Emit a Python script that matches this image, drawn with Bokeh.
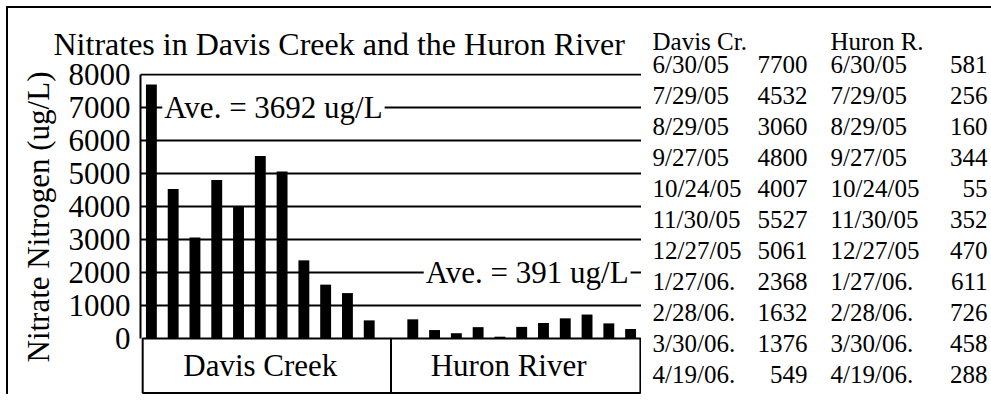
from bokeh.plotting import figure
from bokeh.models import FactorRange, Range1d, FixedTicker, ColumnDataSource, Title
from bokeh.layouts import row
from bokeh.embed import file_html
from bokeh.resources import INLINE
from bokeh.core.properties import value

# ---------------- data ----------------
chart_title = "Nitrates in Davis Creek and the Huron River"
y_label = "Nitrate Nitrogen (ug/L)"
groups = ["Davis Creek", "Huron River"]
table_headers = ["Davis Cr.", "Huron R."]
dates = ["6/30/05", "7/29/05", "8/29/05", "9/27/05", "10/24/05", "11/30/05",
         "12/27/05", "1/27/06.", "2/28/06.", "3/30/06.", "4/19/06."]
davis = [7700, 4532, 3060, 4800, 4007, 5527, 5061, 2368, 1632, 1376, 549]
huron = [581, 256, 160, 344, 55, 352, 470, 611, 726, 458, 288]
y_ticks = [0, 1000, 2000, 3000, 4000, 5000, 6000, 7000, 8000]

FONT = "Liberation Serif"
BIG = "31px"
SMALL = "25px"

davis_avg = round(sum(davis) / len(davis))
huron_avg = round(sum(huron) / len(huron))

# ---------------- chart ----------------
factors = [(g, d) for g in groups for d in dates]
bar_values = davis + huron

p = figure(width=633, height=386,
           x_range=FactorRange(*factors, group_padding=1.0, range_padding=0),
           y_range=Range1d(-1697, 8030),
           output_backend="svg", toolbar_location=None,
           min_border_left=131, min_border_right=0, min_border_top=65, min_border_bottom=0,
           x_axis_location=None, title=chart_title)
p.frame_align = False
p.outline_line_color = None
p.background_fill_color = "white"
p.border_fill_color = "white"

p.title.align = "left"
p.title.offset = -87
p.title.text_font = FONT
p.title.text_font_size = "32px"
p.title.text_font_style = "normal"
p.title.text_color = "black"
p.title.standoff = 24

p.xgrid.visible = False
p.ygrid.ticker = FixedTicker(ticks=y_ticks[1:])
p.ygrid.grid_line_color = "black"
p.ygrid.grid_line_width = 2

ax = p.yaxis[0]
ax.ticker = FixedTicker(ticks=y_ticks)
ax.bounds = (y_ticks[0], y_ticks[-1])
ax.axis_line_color = "black"
ax.axis_line_width = 2
ax.major_tick_out = 0
ax.major_tick_in = 0
ax.minor_tick_out = 0
ax.minor_tick_in = 0
ax.major_label_text_font = FONT
ax.major_label_text_font_size = BIG
ax.major_label_text_color = "black"
ax.major_label_standoff = 10

# y-axis title, placed in the left panel beside the tick labels
ytitle = Title(text=y_label, align="left", offset=32, vertical_align="bottom", standoff=20,
               text_font=FONT, text_font_size=BIG, text_font_style="normal", text_color="black")
p.add_layout(ytitle, "left")

bars = ColumnDataSource(dict(x=factors, top=bar_values))
p.vbar(x="x", top="top", bottom=0, width=0.5, fill_color="black", line_color=None, source=bars)

# category boxes under the bars
boxes = ColumnDataSource(dict(
    left=[(groups[0], dates[0], -0.4), (groups[1], dates[0], -1.0)],
    right=[(groups[0], dates[-1], 1.0), (groups[1], dates[-1], 0.45)],
    top=[0, 0], bottom=[-1650, -1650]))
p.quad(left="left", right="right", top="top", bottom="bottom", source=boxes,
       fill_color="white", line_color="black", line_width=2)
p.text(x=[(groups[0], 0.0), (groups[1], -0.6)], y=[-825, -825], text=groups,
       text_align="center", text_baseline="middle", text_font=value(FONT),
       text_font_size=BIG, text_color="black")

# average labels
p.text(x=[(groups[0], dates[0], 0.5)], y=[7000], text=[f"Ave. = {davis_avg} ug/L"],
       text_align="left", text_baseline="middle", text_font=value(FONT),
       text_font_size=BIG, text_color="black", background_fill_color="white", padding=2)
p.text(x=[(groups[1], dates[-1], 0.0)], y=[2000], text=[f"Ave. = {huron_avg} ug/L"],
       text_align="right", text_baseline="middle", text_font=value(FONT),
       text_font_size=BIG, text_color="black", background_fill_color="white", padding=2)

# ---------------- data table on the right ----------------
n = len(dates)
t = figure(width=350, height=386,
           x_range=FactorRange(*table_headers, range_padding=0),
           y_range=Range1d(10.645, -1.806),
           output_backend="svg", toolbar_location=None,
           min_border=0, x_axis_location=None, y_axis_location=None)
t.frame_align = False
t.outline_line_color = None
t.grid.visible = False
t.background_fill_color = "white"
t.border_fill_color = "white"

rows_y = list(range(n))
common = dict(text_baseline="middle", text_font=value(FONT), text_font_size=SMALL, text_color="black")
t.text(x=[(table_headers[0], -0.437), (table_headers[1], -0.42)], y=[-0.75, -0.75],
       text=table_headers, text_align="left", **common)
t.text(x=[(table_headers[0], -0.437)] * n, y=rows_y, text=dates, text_align="left", **common)
t.text(x=[(table_headers[0], 0.449)] * n, y=rows_y, text=[str(v) for v in davis], text_align="right", **common)
t.text(x=[(table_headers[1], -0.42)] * n, y=rows_y, text=dates, text_align="left", **common)
t.text(x=[(table_headers[1], 0.477)] * n, y=rows_y, text=[str(v) for v in huron], text_align="right", **common)

layout = row(p, t)
layout.margin = (6, 0, 0, 6)
layout.styles = {"border-top": "2px solid black", "border-left": "2px solid black"}

open("out.html", "w").write(file_html(layout, INLINE))
